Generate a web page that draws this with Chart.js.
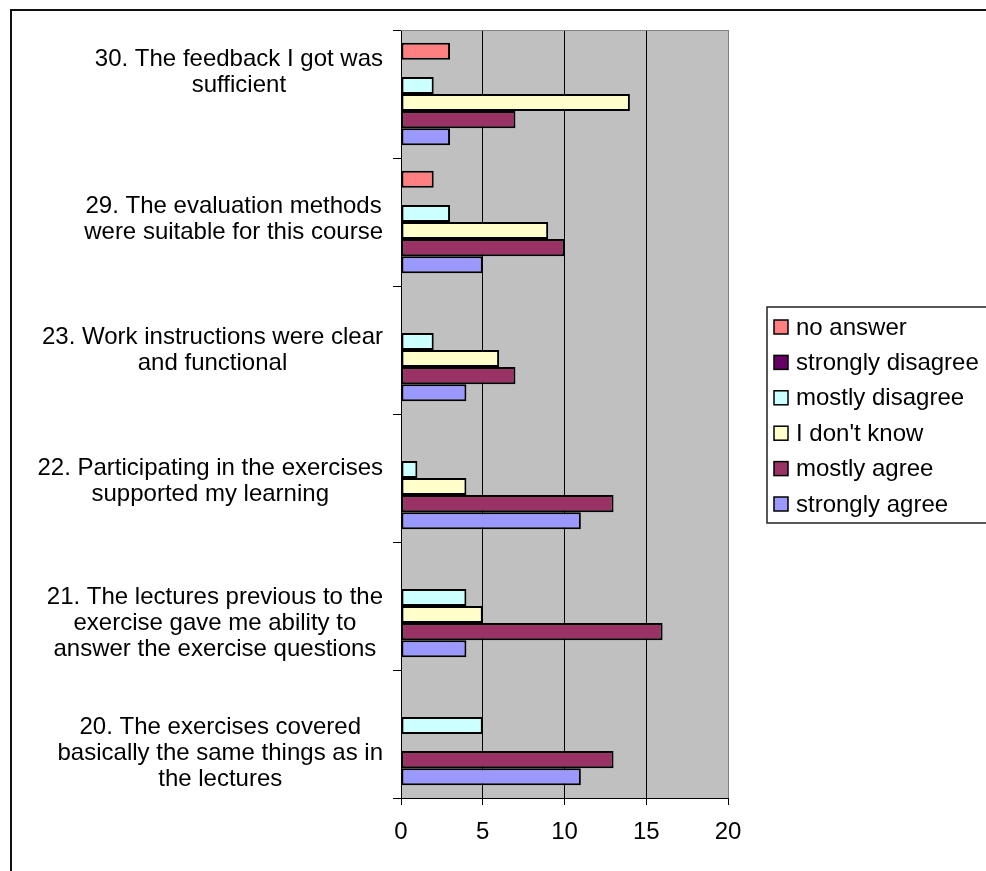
<!DOCTYPE html>
<html>
<head>
<meta charset="utf-8">
<script src="https://cdn.jsdelivr.net/npm/chart.js@4.4.1/dist/chart.umd.min.js"></script>
<style>
  html, body { margin: 0; padding: 0; background: #fff; }
  canvas { display: block; }
</style>
</head>
<body>
<canvas id="chart" width="986" height="871"></canvas>
<script>
// Survey questions, top to bottom; each label is split into its display lines
const categories = [
  ["30. The feedback I got was", "sufficient"],
  ["29. The evaluation methods", "were suitable for this course"],
  ["23. Work instructions were clear", "and functional"],
  ["22. Participating in the exercises", "supported my learning"],
  ["21. The lectures previous to the", "exercise gave me ability to", "answer the exercise questions"],
  ["20. The exercises covered", "basically the same things as in", "the lectures"]
];

// Number of answers per question for each response option
const noAnswer         = [3, 2, 0, 0, 0, 0];
const stronglyDisagree = [0, 0, 0, 0, 0, 0];
const mostlyDisagree   = [2, 3, 2, 1, 4, 5];
const dontKnow         = [14, 9, 6, 4, 5, 0];
const mostlyAgree      = [7, 10, 7, 13, 16, 13];
const stronglyAgree    = [3, 5, 4, 11, 4, 11];

const seriesNames  = ["no answer", "strongly disagree", "mostly disagree", "I don't know", "mostly agree", "strongly agree"];
const seriesValues = [noAnswer, stronglyDisagree, mostlyDisagree, dontKnow, mostlyAgree, stronglyAgree];
const seriesColors = ["#FF8080", "#660066", "#CCFFFF", "#FFFFCC", "#993366", "#9999FF"];

// Value axis ticks
const xTicks = [0, 5, 10, 15, 20];

const FONT = '"Liberation Sans", Arial, Helvetica, sans-serif';
const FONT_SIZE = 24;
const LINE_H = 26;
// vertical fine-tuning (px) of each question's label block
const labelShift = [-22, -3, 0, 3, 17, 19];

const decorations = {
  id: 'decorations',
  beforeDraw(chart) {
    const { ctx, chartArea: a } = chart;
    ctx.save();
    ctx.fillStyle = '#ffffff';
    ctx.fillRect(0, 0, chart.width, chart.height);
    ctx.fillStyle = '#C0C0C0';
    ctx.fillRect(a.left, a.top, a.right - a.left, a.bottom - a.top);
    ctx.restore();
  },
  afterDraw(chart) {
    const { ctx, chartArea: a } = chart;
    ctx.save();

    // outer chart frame (left and top edges)
    ctx.strokeStyle = '#111';
    ctx.lineWidth = 2;
    ctx.beginPath();
    ctx.moveTo(11, chart.height + 2);
    ctx.lineTo(11, 10);
    ctx.lineTo(chart.width + 2, 10);
    ctx.stroke();

    // plot area top edge
    ctx.strokeStyle = '#808080';
    ctx.lineWidth = 1;
    ctx.beginPath();
    ctx.moveTo(a.left, a.top + 0.5);
    ctx.lineTo(a.right + 0.5, a.top + 0.5);
    ctx.stroke();

    // category labels, each block centred on its own widest line
    const yScale = chart.scales.y;
    ctx.font = FONT_SIZE + 'px ' + FONT;
    ctx.fillStyle = '#000';
    ctx.textAlign = 'center';
    ctx.textBaseline = 'middle';
    categories.forEach((lines, i) => {
      const y = yScale.getPixelForTick(i) + labelShift[i];
      const widest = Math.max(...lines.map(l => ctx.measureText(l).width));
      const cx = a.left - 18 - widest / 2;
      lines.forEach((line, j) => {
        ctx.fillText(line, cx, y + (j - (lines.length - 1) / 2) * LINE_H);
      });
    });

    // legend box
    const lx = a.right + 39, ly = 307, lw = 240, lh = 216;
    ctx.strokeStyle = '#222';
    ctx.lineWidth = 1.5;
    ctx.strokeRect(lx, ly, lw, lh);
    ctx.textAlign = 'left';
    chart.data.datasets.forEach((ds, i) => {
      const cy = ly + 20 + i * 35.4;
      ctx.fillStyle = ds.backgroundColor;
      ctx.fillRect(lx + 7, cy - 7, 14, 14);
      ctx.strokeStyle = '#000';
      ctx.lineWidth = 1.5;
      ctx.strokeRect(lx + 7, cy - 7, 14, 14);
      ctx.fillStyle = '#000';
      ctx.fillText(ds.label, lx + 29, cy + 1);
    });
    ctx.restore();
  }
};

new Chart(document.getElementById('chart'), {
  type: 'bar',
  data: {
    labels: categories,
    datasets: seriesNames.map((name, i) => ({
      label: name,
      data: seriesValues[i],
      backgroundColor: seriesColors[i],
      borderColor: '#000',
      borderWidth: c => (c.raw ? 2 : 0),
      borderSkipped: false,
      categoryPercentage: 0.8,
      barPercentage: 1.0
    }))
  },
  options: {
    indexAxis: 'y',
    responsive: false,
    animation: false,
    layout: { padding: { top: 30, right: 258, bottom: 0, left: 0 } },
    plugins: {
      legend: { display: false },
      tooltip: { enabled: false }
    },
    scales: {
      x: {
        type: 'linear',
        min: xTicks[0],
        max: xTicks[xTicks.length - 1],
        afterBuildTicks(s) { s.ticks = xTicks.map(v => ({ value: v })); },
        ticks: {
          color: '#000',
          font: { family: FONT, size: FONT_SIZE },
          padding: 13,
          maxRotation: 0
        },
        grid: {
          color: c => (c.tick && c.tick.value === 20 ? '#808080' : '#000'),
          lineWidth: 1,
          drawTicks: true,
          tickLength: 7,
          tickColor: '#000'
        },
        border: { color: '#000', width: 1 },
        afterFit(s) { s.height = 73; }
      },
      y: {
        type: 'category',
        offset: true,
        grid: {
          offset: true,
          drawOnChartArea: false,
          drawTicks: true,
          tickLength: 8,
          color: '#000',
          lineWidth: 1
        },
        border: { color: '#000', width: 1 },
        ticks: { display: false },
        afterFit(s) { s.width = 401; }
      }
    }
  },
  plugins: [decorations]
});
</script>
</body>
</html>
